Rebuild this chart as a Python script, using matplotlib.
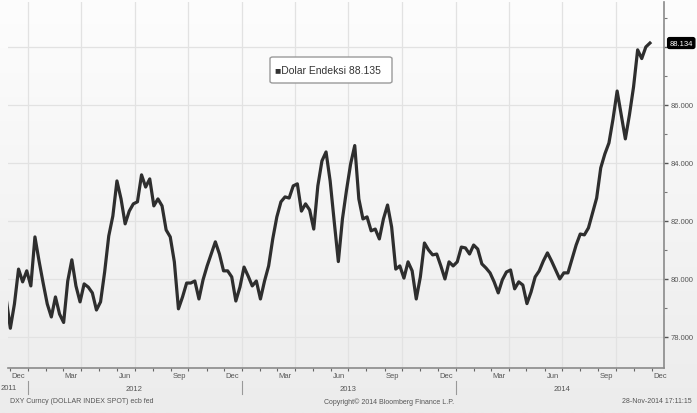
import numpy as np
import pandas as pd
import matplotlib
matplotlib.use("Agg")
import matplotlib.pyplot as plt
from matplotlib.patches import FancyBboxPatch
from matplotlib.colors import LinearSegmentedColormap
from matplotlib.lines import Line2D

plt.rcParams['font.family'] = ['Liberation Sans', 'DejaVu Sans']

# --- data -------------------------------------------------------------
series_name = "Dolar Endeksi"
ticker_text = "DXY Curncy (DOLLAR INDEX SPOT) ecb fed"
copyright_text = "Copyright\u00a9 2014 Bloomberg Finance L.P."
timestamp_text = "28-Nov-2014 17:11:15"
last_price_tag = "88.134"

week_start = "2011-11-25"          # weekly closes, one per Friday
dxy_weekly = [
    79.30, 78.30, 79.14, 80.34, 79.90, 80.28, 79.76, 81.45, 80.62, 79.86,
    79.14, 78.69, 79.38, 78.79, 78.50, 79.93, 80.66, 79.76, 79.21, 79.83,
    79.72, 79.52, 78.93, 79.21, 80.24, 81.48, 82.17, 83.38, 82.76, 81.90,
    82.34, 82.59, 82.66, 83.59, 83.17, 83.45, 82.52, 82.76, 82.52, 81.69,
    81.45, 80.59, 78.97, 79.38, 79.86, 79.86, 79.93, 79.31, 79.97, 80.45,
    80.86, 81.28, 80.86, 80.28, 80.28, 80.07, 79.24, 79.72, 80.41, 80.10,
    79.76, 79.93, 79.31, 79.93, 80.45, 81.38, 82.14, 82.66, 82.83, 82.79,
    83.21, 83.28, 82.34, 82.59, 82.38, 81.72, 83.21, 84.07, 84.38, 83.38,
    81.97, 80.60, 82.07, 83.07, 83.97, 84.60, 82.76, 82.07, 82.14, 81.66,
    81.72, 81.38, 82.07, 82.55, 81.79, 80.34, 80.45, 80.03, 80.59, 80.28,
    79.31, 80.07, 81.24, 81.00, 80.83, 80.86, 80.45, 80.00, 80.59, 80.45,
    80.59, 81.10, 81.07, 80.86, 81.17, 81.03, 80.52, 80.38, 80.21, 79.90,
    79.52, 79.97, 80.24, 80.31, 79.66, 79.90, 79.79, 79.15, 79.55, 80.07,
    80.28, 80.62, 80.90, 80.62, 80.31, 80.00, 80.21, 80.21, 80.69, 81.17,
    81.55, 81.52, 81.76, 82.28, 82.79, 83.83, 84.31, 84.69, 85.52, 86.48,
    85.66, 84.83, 85.66, 86.62, 87.90, 87.60, 88.00, 88.135,
]
y_major = [78, 80, 82, 84, 86, 88]
y_minor = [79, 81, 83, 85, 87, 89]
label_months = [12, 3, 6, 9]
years = [2011, 2012, 2013, 2014]

dates = pd.date_range(week_start, periods=len(dxy_weekly), freq="7D")

# --- figure -----------------------------------------------------------
W, H = 697, 414
fig = plt.figure(figsize=(W / 100, H / 100), dpi=100)

bg = fig.add_axes([0, 0, 1, 1], zorder=0)
grad = np.linspace(0, 1, 256).reshape(-1, 1)
bg.imshow(grad, aspect="auto", extent=[0, 1, 0, 1],
          cmap=LinearSegmentedColormap.from_list("bg", ["#fdfdfd", "#ececec"]))
bg.axis("off")

ax = fig.add_axes([8 / W, 45 / H, 656 / W, 366 / H], zorder=1)
ax.patch.set_alpha(0)
ax.set_xlim(pd.Timestamp("2011-11-28"), pd.Timestamp("2014-12-22"))
ax.set_ylim(76.93, 89.55)

# grid
for v in y_major:
    ax.axhline(v, color="#e2e2e2", lw=0.9, zorder=0)
for d in pd.date_range("2012-01-01", "2014-12-01", freq="QS"):
    ax.axvline(d, color="#e2e2e2", lw=0.9, zorder=0)

ax.plot(dates, dxy_weekly, color="#2e2e2e", lw=2.3,
        solid_joinstyle="round", zorder=3)

# spines
for s in ("top", "left"):
    ax.spines[s].set_visible(False)
for s in ("bottom", "right"):
    ax.spines[s].set_color("#8a8a8a")
    ax.spines[s].set_linewidth(1.2)

# y axis on the right
ax.yaxis.tick_right()
ax.set_yticks(y_major)
ax.set_yticklabels([f"{v:.3f}" if v != 88 else "" for v in y_major])
ax.set_yticks(y_minor, minor=True)
ax.tick_params(axis="y", which="major", length=3, width=1, color="#555555",
               labelsize=5.5, labelcolor="#555555", pad=2)
ax.tick_params(axis="y", which="minor", length=2, width=0.8, color="#777777")

# x axis: month labels mid-month, ticks at month starts
lab_dates = [d + pd.Timedelta(days=14)
             for d in pd.date_range("2011-12-01", "2014-12-01", freq="MS")
             if d.month in label_months]
ax.set_xticks(lab_dates)
ax.set_xticklabels([d.strftime("%b") for d in lab_dates])
ax.set_xticks(pd.date_range("2011-12-01", "2014-12-01", freq="MS"), minor=True)
ax.tick_params(axis="x", which="major", length=0, labelsize=5.5,
               labelcolor="#555555", pad=3)
ax.tick_params(axis="x", which="minor", length=2.5, width=0.8, color="#666666")

# year row with separators
trans = ax.get_xaxis_transform()
for yr in years:
    if yr == 2011:
        fig.text(1 / W, 1 - 389 / H, str(yr), ha="left", va="center",
                 fontsize=5.5, color="#555555")
        continue
    ax.text(pd.Timestamp(f"{yr}-07-01"), -0.055, str(yr), transform=trans,
            ha="center", va="center", fontsize=5.5, color="#555555",
            clip_on=False)
    ax.add_line(Line2D([pd.Timestamp(f"{yr}-01-01")] * 2, [-0.036, -0.072],
                       transform=trans, color="#999999", lw=0.8,
                       clip_on=False))

# footer
fy = 1 - 402 / H
fig.text(10 / W, fy, ticker_text, ha="left", va="center", fontsize=5,
         color="#555555")
fig.text(389 / W, fy, copyright_text, ha="center", va="center", fontsize=5,
         color="#555555")
fig.text(692 / W, fy, timestamp_text, ha="right", va="center", fontsize=5,
         color="#555555")

# legend box
fig.patches.append(FancyBboxPatch((270 / W, 330 / H), 122 / W, 26 / H,
                                  boxstyle="round,pad=0,rounding_size=0.004",
                                  transform=fig.transFigure, fc="white",
                                  ec="#9a9a9a", lw=1, zorder=5))
fig.text(275 / W, 1 - 71 / H, f"\u25a0{series_name} {dxy_weekly[-1]:.3f}",
         ha="left", va="center", fontsize=7.5, color="#333333", zorder=6)

# last price tag on the axis
ax.annotate(last_price_tag, xy=(1, dxy_weekly[-1]),
            xycoords=("axes fraction", "data"), xytext=(4, 0),
            textcoords="offset points", ha="left", va="center", fontsize=5.5,
            color="white", annotation_clip=False,
            bbox=dict(boxstyle="round,pad=0.25", fc="black", ec="black"))

fig.savefig("out.png", dpi=100)
